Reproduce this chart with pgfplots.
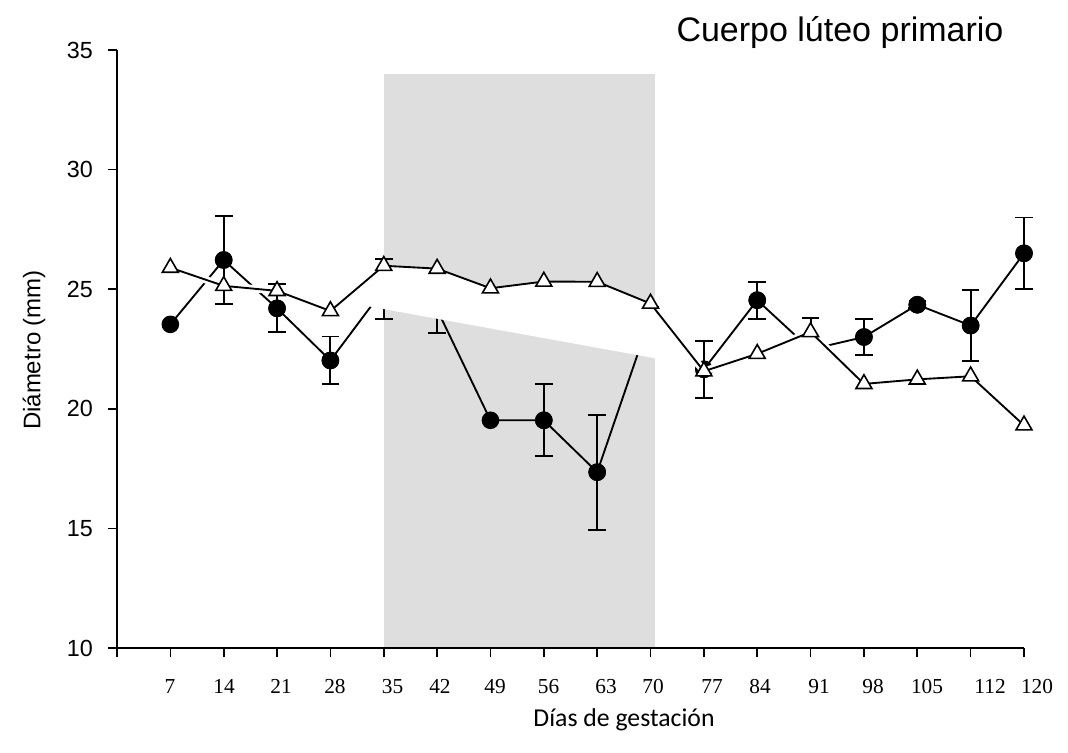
\documentclass[border=0pt]{standalone}
\usepackage{fontspec}
\setmainfont{Liberation Sans}
\newfontfamily\timesnum{Liberation Serif}
\newfontfamily\carlito{Carlito}
\usepackage{pgfplots}
\usepackage{pgfplotstable}
\pgfplotsset{compat=1.18}

\definecolor{bandgray}{RGB}{222,222,222}

% Diámetro medio (mm) y error estándar, círculos
\pgfplotstableread{
k v e
1 23.53 0
2 26.22 1.85
3 24.20 1.00
4 22.02 1.00
5 25.00 1.25
6 24.15 0.99
7 19.52 0
8 19.52 1.50
9 17.35 2.40
10 23.85 0.40
11 21.65 1.20
12 24.54 0.77
13 22.48 1.33
14 23.00 0.75
15 24.35 0.15
16 23.48 1.49
17 26.50 1.50
}\circulos

% Diámetro medio (mm), triángulos
\pgfplotstableread{
k v
1 25.90
2 25.14
3 24.93
4 24.09
5 25.98
6 25.86
7 25.04
8 25.32
9 25.31
10 24.40
11 21.57
12 22.30
13 23.21
14 21.04
15 21.23
16 21.36
17 19.31
}\triangulos

\begin{document}
\begin{tikzpicture}
\begin{axis}[
  name=ax,
  scale only axis, width=680.25pt, height=448.5pt,
  xmin=0, xmax=17, ymin=10, ymax=35,
  axis lines*=left,
  axis on top,
  clip marker paths=true,
  axis line style={line width=1.2pt, black},
  xtick={0,...,17}, xticklabels={},
  ytick={10,15,...,35},
  tick align=outside, major tick length=7pt,
  tick style={line width=1.2pt, black},
  yticklabel style={font=\fontsize{17.5}{17.5}\selectfont, anchor=east, xshift=-7.5pt},
  /pgf/number format/assume math mode=true,
  clip=false,
]
% periodo sombreado (35-70 días)
\addplot[fill=bandgray, draw=none] coordinates {(5,10) (5,34) (10.08,34) (10.08,10)};

% barras de error de los círculos
\addplot[black, line width=1.4pt, only marks, mark=*, mark size=5.9pt,
  restrict expr to domain={\thisrow{e}}{0.01:10},
  error bars/.cd, y dir=both, y explicit, error mark=-,
  error bar style={line width=1.4pt, black},
  error mark options={rotate=90, line width=1.4pt, mark size=6.6pt, black}]
  table[x=k, y=v, y error=e] {\circulos};

% serie de círculos
\addplot[black, line width=1.4pt, mark=*, mark size=5.9pt]
  table[x=k, y=v] {\circulos};

% zonas blancas bajo la serie de triángulos
\addplot[fill=white, draw=none] coordinates {(4.206,24.49) (5,25.98) (6,25.86) (7,25.04) (8,25.32) (9,25.31) (10,24.40) (10.93,21.77)};
\addplot[fill=white, draw=none] coordinates {(12.75,22.98) (13,23.21) (13.27,22.62) (13.27,20.6) (12.75,20.6)};

% serie de triángulos con contorno blanco fuera del periodo sombreado
\addplot[white, line width=5.5pt, line join=round, mark=none,
  unbounded coords=jump, x filter/.expression={(x>5.5 && x<9.5) ? nan : x}]
  table[x=k, y=v] {\triangulos};
\addplot[black, line width=1.4pt, mark=triangle*, mark size=6.9pt,
  mark options={fill=white, line width=1.2pt}]
  table[x=k, y=v] {\triangulos};

% rótulos del eje x
\tikzset{xlab/.style={anchor=base, yshift=-34.5pt, font=\timesnum\fontsize{16}{16}\selectfont}}
\node[xlab] at (axis cs:0.993,10) {7};
\node[xlab] at (axis cs:2.006,10) {14};
\node[xlab] at (axis cs:3.074,10) {21};
\node[xlab] at (axis cs:4.086,10) {28};
\node[xlab] at (axis cs:5.164,10) {35};
\node[xlab] at (axis cs:6.054,10) {42};
\node[xlab] at (axis cs:7.085,10) {49};
\node[xlab] at (axis cs:8.088,10) {56};
\node[xlab] at (axis cs:9.166,10) {63};
\node[xlab] at (axis cs:10.047,10) {70};
\node[xlab] at (axis cs:11.153,10) {77};
\node[xlab] at (axis cs:12.053,10) {84};
\node[xlab] at (axis cs:13.158,10) {91};
\node[xlab] at (axis cs:14.17,10) {98};
\node[xlab] at (axis cs:15.183,10) {105};
\node[xlab] at (axis cs:16.364,10) {112};
\node[xlab] at (axis cs:17.245,10) {120};
\end{axis}

\path (ax.south west) ++(542.25pt,454.7pt)
  node[anchor=base, font=\fontsize{25.5}{25.5}\selectfont] {Cuerpo lúteo primario};
\path (ax.south west) ++(380.25pt,-59.25pt)
  node[anchor=base, font=\carlito\fontsize{19.3}{19.3}\selectfont] {Días de gestación};
\path (ax.south west) ++(-62.25pt,223.5pt)
  node[rotate=90, anchor=center, font=\fontsize{18}{18}\selectfont] {Diámetro (mm)};

\pgfresetboundingbox
\path[use as bounding box] ([shift={(-87.75pt,-78.75pt)}]ax.south west)
  rectangle ([shift={(713.25pt,486pt)}]ax.south west);
\end{tikzpicture}
\end{document}
